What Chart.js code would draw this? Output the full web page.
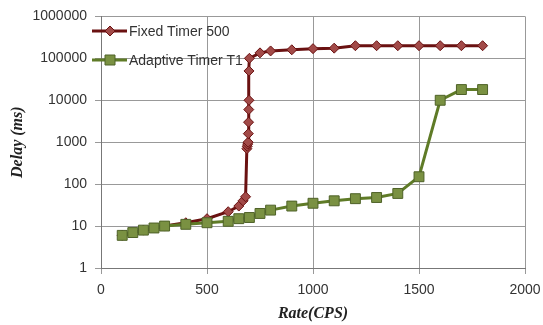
<!DOCTYPE html>
<html>
<head>
<meta charset="utf-8">
<script src="https://cdn.jsdelivr.net/npm/chart.js@4/dist/chart.umd.min.js"></script>
<style>
  html, body { margin: 0; padding: 0; background: #fff; }
  #wrap { width: 543px; height: 325px; }
</style>
</head>
<body>
<div id="wrap"><canvas id="chart" width="543" height="325"></canvas></div>
<script>
// ---- data ----
const fixedRate  = [100, 200, 300, 400, 500, 600, 650, 670, 682, 688, 690, 692, 694, 695, 696, 697, 698, 698, 700, 750, 800, 900, 1000, 1100, 1200, 1300, 1400, 1500, 1600, 1700, 1800];
const fixedDelay = [6, 8, 10, 12, 15, 22, 30, 40, 50, 700, 800, 900, 1000, 1600, 3000, 6000, 10000, 50000, 100000, 135000, 150000, 160000, 170000, 175000, 200000, 200000, 200000, 200000, 200000, 200000, 200000];

const adaptiveRate  = [100, 150, 200, 250, 300, 400, 500, 600, 650, 700, 750, 800, 900, 1000, 1100, 1200, 1300, 1400, 1500, 1600, 1700, 1800];
const adaptiveDelay = [6, 7, 8, 9, 10, 11, 12, 13, 15, 16, 20, 24, 30, 35, 40, 45, 48, 60, 150, 10000, 18000, 18000];

const yTicks = [1, 10, 100, 1000, 10000, 100000, 1000000];
const xTicks = [0, 500, 1000, 1500, 2000];

const seriesNames = ["Fixed Timer 500", "Adaptive Timer T1"];

function toPoints(xs, ys) {
  return xs.map((x, i) => ({ x: x, y: ys[i] }));
}

const RED_LINE = "#6a1111";
const RED_FILL = "#a24a48";
const GRN_LINE = "#5f7b27";
const GRN_FILL = "#7a9142";
const GRN_EDGE = "#4f6228";

// legend drawn inside the plot area, over the grid (like the original)
const legendInside = {
  id: "legendInside",
  afterDraw(chart) {
    const ctx = chart.ctx;
    const rows = [
      { ds: chart.data.datasets[1], y: 31 },
      { ds: chart.data.datasets[0], y: 60 }
    ];
    ctx.save();
    for (const r of rows) {
      const ds = r.ds;
      ctx.strokeStyle = ds.borderColor;
      ctx.lineWidth = 3;
      ctx.beginPath();
      ctx.moveTo(92, r.y);
      ctx.lineTo(127, r.y);
      ctx.stroke();
      const cx = 110;
      ctx.fillStyle = ds.pointBackgroundColor;
      ctx.strokeStyle = ds.pointBorderColor;
      ctx.lineWidth = 1;
      ctx.beginPath();
      if (ds.pointStyle === "rectRot") {
        ctx.moveTo(cx, r.y - 5);
        ctx.lineTo(cx + 5, r.y);
        ctx.lineTo(cx, r.y + 5);
        ctx.lineTo(cx - 5, r.y);
        ctx.closePath();
      } else {
        ctx.rect(cx - 5, r.y - 5, 10, 10);
      }
      ctx.fill();
      ctx.stroke();
      ctx.fillStyle = "#333";
      ctx.font = "14px 'Liberation Sans', Arial, sans-serif";
      ctx.textBaseline = "middle";
      ctx.textAlign = "left";
      ctx.fillText(ds.label, 129, r.y + 1);
    }
    ctx.restore();
  }
};

const tickFont = { family: "'Liberation Sans', Arial, sans-serif", size: 14 };
const titleFont = { family: "'Liberation Serif', 'Times New Roman', serif", size: 16, weight: "bold", style: "italic" };

new Chart(document.getElementById("chart"), {
  type: "line",
  data: {
    datasets: [
      {
        label: seriesNames[1],
        data: toPoints(adaptiveRate, adaptiveDelay),
        borderColor: GRN_LINE,
        borderWidth: 3,
        pointStyle: "rect",
        pointRadius: 7,
        pointBackgroundColor: GRN_FILL,
        pointBorderColor: GRN_EDGE,
        pointBorderWidth: 1,
        tension: 0,
        order: 0
      },
      {
        label: seriesNames[0],
        data: toPoints(fixedRate, fixedDelay),
        borderColor: RED_LINE,
        borderWidth: 3,
        pointStyle: "rectRot",
        pointRadius: 5,
        pointBackgroundColor: RED_FILL,
        pointBorderColor: RED_LINE,
        pointBorderWidth: 1,
        tension: 0,
        order: 1
      }
    ]
  },
  options: {
    responsive: false,
    animation: false,
    layout: { padding: { top: 15, right: 18, left: 8, bottom: 0 } },
    plugins: {
      legend: { display: false },
      tooltip: { enabled: false }
    },
    scales: {
      x: {
        type: "linear",
        min: 0,
        max: 2000,
        afterBuildTicks: (axis) => { axis.ticks = xTicks.map(v => ({ value: v })); },
        afterFit: (axis) => { axis.height = 57; axis.paddingLeft = 0; axis.paddingRight = 0; },
        grid: { color: "#999", lineWidth: 1, tickLength: 6, drawTicks: true },
        border: { color: "#777", width: 1 },
        ticks: { color: "#333", font: tickFont, padding: 8, maxRotation: 0, callback: (v) => String(v) },
        title: { display: true, text: "Rate(CPS)", color: "#222", font: titleFont, padding: { top: 0, bottom: 2 } }
      },
      y: {
        type: "logarithmic",
        min: 1,
        max: 1000000,
        afterBuildTicks: (axis) => { axis.ticks = yTicks.map(v => ({ value: v })); },
        afterFit: (axis) => { axis.width = 93; },
        grid: { color: "#999", lineWidth: 1, tickLength: 6 },
        border: { color: "#777", width: 1 },
        ticks: { color: "#333", font: tickFont, padding: 8, callback: (v) => String(v) },
        title: { display: true, text: "Delay (ms)", color: "#222", font: titleFont, padding: { top: 0, bottom: 4 } }
      }
    }
  },
  plugins: [legendInside]
});
</script>
</body>
</html>
